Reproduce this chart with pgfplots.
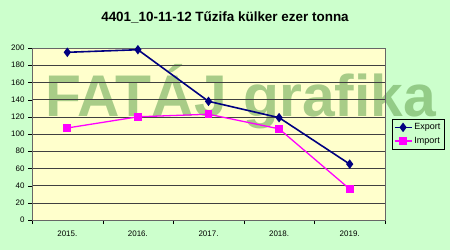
\documentclass[border=0pt]{standalone}
\usepackage{pgfplots}
\pgfplotsset{compat=1.18}
\usepackage{fontspec}
\setmainfont{Liberation Sans}
\definecolor{pagebg}{RGB}{204,255,204}
\definecolor{plotbg}{RGB}{255,255,204}
\definecolor{wm}{RGB}{110,170,90}
\definecolor{expc}{RGB}{0,0,128}
\definecolor{impc}{RGB}{255,0,255}
\begin{document}
\begin{tikzpicture}[x=1bp,y=1bp]
\fill[pagebg] (0,0) rectangle (450,250);
\fill[plotbg] (32,30) rectangle (385,202);
\node[anchor=base west, text=wm, opacity=0.6, font=\fontsize{59}{59}\selectfont\bfseries, inner sep=0] at (45,134) {\smash{FATÁJ grafika}};
\node[font=\fontsize{13.5}{15}\selectfont\bfseries] at (225,233) {4401\_10-11-12 Tűzifa külker ezer tonna};
\begin{axis}[
  at={(32bp,30bp)}, anchor=south west,
  scale only axis, width=353bp, height=172bp,
  xmin=-0.5, xmax=4.5, ymin=0, ymax=200,
  xtick={0,1,2,3,4},
  xticklabels={2015.,2016.,2017.,2018.,2019.},
  major x tick style={draw=none},
  minor xtick={-0.5,0.5,1.5,2.5,3.5,4.5},
  minor x tick style={black},
  ytick={0,20,...,200},
  tick align=outside, tick pos=left,
  major tick length=4bp, minor tick length=4bp,
  ymajorgrids, grid style={draw=black!75, line width=0.6pt},
  axis line style={draw=black!60},
  y tick style={black},
  ticklabel style={font=\fontsize{8}{9}\selectfont},
  /pgf/number format/assume math mode=true,
  xticklabel style={yshift=-3bp},
  legend style={at={(1.167,0.588)}, anchor=north east, fill=pagebg, draw=black, font=\fontsize{9}{11}\selectfont, inner xsep=1.5pt, inner ysep=2.5pt, row sep=2pt, legend cell align=left},
]
\addplot[color=expc, line width=1.6pt, mark=diamond*, mark size=3.5pt, mark options={solid}] coordinates {(0,195) (1,198) (2,138) (3,119) (4,65)};
\addlegendentry{Export}
\addplot[color=impc, line width=1.3pt, mark=square*, mark size=3.2pt] coordinates {(0,107) (1,120) (2,123) (3,106) (4,36)};
\addlegendentry{Import}
\end{axis}
\pgfresetboundingbox
\path (0,0) rectangle (450,250);
\end{tikzpicture}
\end{document}
